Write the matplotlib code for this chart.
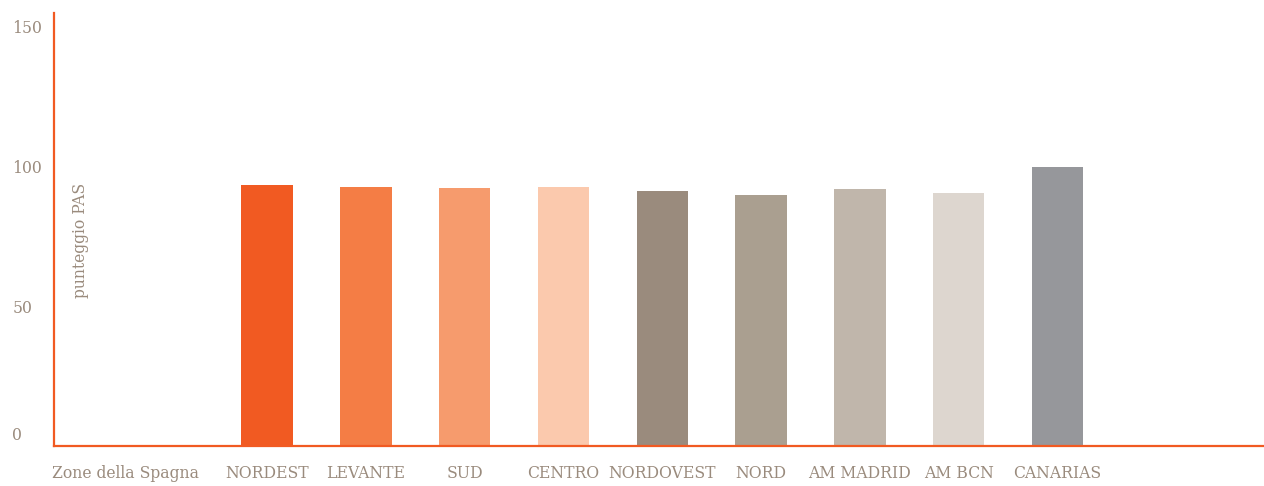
import matplotlib
matplotlib.use("Agg")
import matplotlib.pyplot as plt
import matplotlib.transforms as mtransforms

# data
categories = ["NORDEST", "LEVANTE", "SUD", "CENTRO", "NORDOVEST",
              "NORD", "AM MADRID", "AM BCN", "CANARIAS"]
scores = [93.5, 92.8, 92.5, 92.8, 91.4, 90.0, 92.1, 90.7, 100.0]
bar_colors = ["#F15A22", "#F47D45", "#F69B6D", "#FBC9AD", "#9A8B7D",
              "#AA9F90", "#C0B6AB", "#DDD6CF", "#96979B"]
x_title = "Zone della Spagna"
y_title = "punteggio PAS"
y_ticks = [0, 50, 100, 150]

axis_col = "#F15A22"
text_col = "#9A8B7D"
font = "DejaVu Serif"

fig = plt.figure(figsize=(12.64, 4.86), dpi=100)
ax = fig.add_axes([54 / 1264, 40 / 486, 1 - 54 / 1264, 433 / 486])

pos = list(range(1, len(categories) + 1))
ax.bar(pos, scores, width=0.52, color=bar_colors, zorder=2)

ax.set_xlim(-1.156, 11.09)
ax.set_ylim(0, 155)

for s in ["top", "right"]:
    ax.spines[s].set_visible(False)
for s in ["left", "bottom"]:
    ax.spines[s].set_color(axis_col)
    ax.spines[s].set_linewidth(1.6)
    ax.spines[s].set_zorder(3)

ax.set_xticks([-0.43] + pos)
ax.set_xticklabels([x_title] + categories)
ax.set_yticks(y_ticks)
ax.set_yticklabels([str(v) for v in y_ticks])
ax.tick_params(axis="both", length=0, colors=text_col, labelsize=12.5)
ax.tick_params(axis="x", pad=14)
ax.tick_params(axis="y", pad=30)
for lab in ax.get_xticklabels() + ax.get_yticklabels():
    lab.set_fontfamily(font)
    lab.set_fontstretch("condensed")
for lab in ax.get_yticklabels():
    lab.set_horizontalalignment("left")
# the zero label sits a bit above the baseline
zero = ax.get_yticklabels()[0]
zero.set_transform(zero.get_transform() +
                   mtransforms.ScaledTranslation(0, 13 / 100, fig.dpi_scale_trans))

ax.text(0.022, 0.475, y_title, transform=ax.transAxes, rotation=90,
        ha="center", va="center", color=text_col, fontsize=12.5,
        family=font, fontstretch="condensed")

fig.savefig("out.png", dpi=100, facecolor="white")
